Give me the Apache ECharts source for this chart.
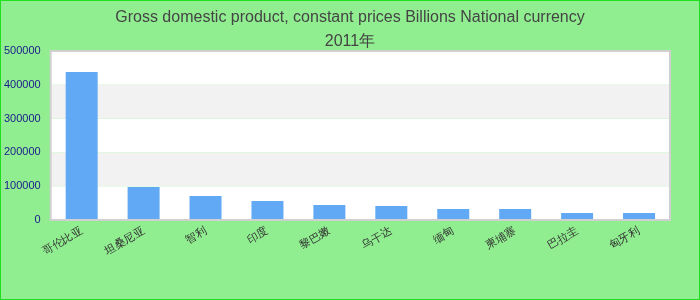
<!DOCTYPE html>
<html>
<head>
<meta charset="utf-8">
<script src="https://cdn.jsdelivr.net/npm/echarts@6/dist/echarts.min.js"></script>
<style>
html,body{margin:0;padding:0;background:#90EE90;}
#c{width:700px;height:300px;box-sizing:border-box;border:1px solid #1ee01e;}
</style>
</head>
<body>
<div id="c"></div>
<script>
var titleLine1 = 'Gross domestic product, constant prices Billions National currency';
var titleLine2 = '2011年';
var categories = ['哥伦比亚', '坦桑尼亚', '智利', '印度', '黎巴嫩', '乌干达', '缅甸', '柬埔寨', '巴拉圭', '匈牙利'];
var values = [437900, 97600, 71000, 56200, 44400, 41400, 32500, 32500, 20700, 20700];

var chart = echarts.init(document.getElementById('c'));
chart.setOption({
  backgroundColor: '#90EE90',
  animation: false,
  title: {
    text: titleLine1 + '\n' + titleLine2,
    left: 'center',
    top: 0,
    textStyle: {fontSize: 16, fontWeight: 'normal', color: '#444', lineHeight: 24, fontFamily: 'Liberation Sans, Arial, sans-serif'}
  },
  grid: {left: 49, right: 29, top: 50, bottom: 79, show: true, z: 10, borderColor: '#d0d0d0', borderWidth: 2, backgroundColor: 'transparent'},
  xAxis: {
    type: 'category',
    data: categories,
    axisLine: {show: false},
    axisTick: {show: false},
    axisLabel: {rotate: 30, color: '#333', fontSize: 11, margin: 10, interval: 0}
  },
  yAxis: {
    type: 'value',
    min: 0,
    max: 500000,
    interval: 100000,
    axisLine: {show: false},
    axisTick: {show: false},
    splitLine: {show: false},
    splitArea: {show: true, areaStyle: {color: ['#ffffff', '#f2f2f2']}},
    axisLabel: {color: '#1a1a8c', fontSize: 11, margin: 10, formatter: function (v) { return String(v); }}
  },
  series: [{
    type: 'bar',
    data: values,
    barWidth: 32,
    itemStyle: {color: '#62a9f5'}
  }]
});
</script>
</body>
</html>
